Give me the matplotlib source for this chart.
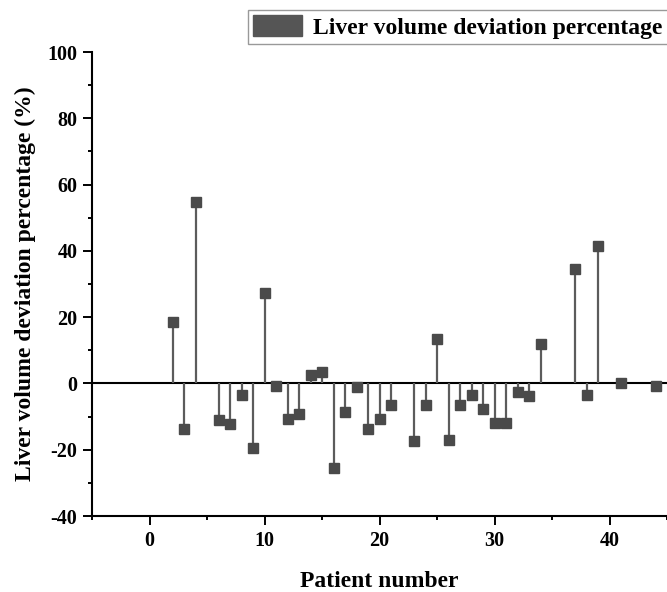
import matplotlib.pyplot as plt
from matplotlib.patches import Patch
from matplotlib.ticker import MultipleLocator

patients = [2, 3, 4, 6, 7, 8, 9, 10, 11, 12, 13, 14, 15, 16, 17, 18, 19, 20,
            21, 23, 24, 25, 26, 27, 28, 29, 30, 31, 32, 33, 34, 37, 38, 39, 41, 44]
deviation = [18.4, -13.6, 54.7, -11.1, -12.3, -3.6, -19.4, 27.4, -0.7, -10.8,
             -9.3, 2.4, 3.3, -25.5, -8.6, -1.2, -13.8, -10.8, -6.6, -17.3,
             -6.6, 13.5, -17.0, -6.6, -3.6, -7.7, -11.8, -11.8, -2.6, -3.7,
             12.0, 34.6, -3.6, 41.6, 0.2, -0.9]
label = "Liver volume deviation percentage"

plt.rcParams["font.family"] = ["Liberation Serif", "DejaVu Serif"]
plt.rcParams["font.weight"] = "bold"
plt.rcParams["axes.unicode_minus"] = False

fig = plt.figure(figsize=(6.67, 5.92), dpi=100)
ax = fig.add_axes([92 / 667, 76 / 592, 575 / 667, 464 / 592])

ax.axhline(0, color="black", lw=1.5, zorder=1)
markers, stems, base = ax.stem(patients, deviation, basefmt=" ")
plt.setp(stems, color="#5c5c5c", linewidth=1.6)
plt.setp(markers, marker="s", markersize=6.5, color="#4a4a4a")

ax.set_xlim(-5, 45)
ax.set_ylim(-40, 100)
ax.xaxis.set_major_locator(MultipleLocator(10))
ax.xaxis.set_minor_locator(MultipleLocator(5))
ax.yaxis.set_major_locator(MultipleLocator(20))
ax.yaxis.set_minor_locator(MultipleLocator(10))
ax.tick_params(which="major", length=6.5, width=1.4, labelsize=14.5, pad=4)
ax.tick_params(which="minor", length=3.2, width=1.4)

ax.spines["top"].set_visible(False)
ax.spines["right"].set_visible(False)
ax.spines["left"].set_linewidth(1.5)
ax.spines["bottom"].set_linewidth(1.5)

ax.set_xlabel("Patient number", fontsize=17, fontweight="bold", labelpad=15)
ax.set_ylabel("Liver volume deviation percentage (%)", fontsize=17,
              fontweight="bold", labelpad=8)

fig.legend(handles=[Patch(facecolor="#555555", edgecolor="#555555", label=label)],
           loc="upper left", bbox_to_anchor=(248 / 667, 1 - 10 / 592),
           fancybox=False, edgecolor="#999999", framealpha=1,
           prop={"size": 17, "weight": "bold"}, handlelength=2.05,
           handleheight=1.0, borderpad=0.22, handletextpad=0.5,
           borderaxespad=0)

fig.savefig("out.png", dpi=100)
